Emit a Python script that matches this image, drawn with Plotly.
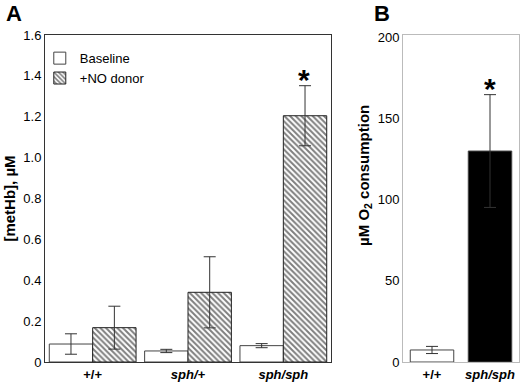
import plotly.graph_objects as go

# Panel A data
genotypes_a = ["+/+", "sph/+", "sph/sph"]
genotype_labels_a = ["<b>+/+</b>", "<b><i>sph/+</i></b>", "<b><i>sph/sph</i></b>"]
baseline = [0.088, 0.054, 0.080]
baseline_err = [0.050, 0.008, 0.010]
no_donor = [0.168, 0.341, 1.205]
no_donor_err = [0.105, 0.174, 0.147]
a_ticks = [0, 0.2, 0.4, 0.6, 0.8, 1.0, 1.2, 1.4, 1.6]
a_ticktext = ["0", "0.2", "0.4", "0.6", "0.8", "1.0", "1.2", "1.4", "1.6"]

# Panel B data
genotypes_b = ["+/+", "sph/sph"]
genotype_labels_b = ["<b>+/+</b>", "<b><i>sph/sph</i></b>"]
o2_cons = [7.4, 129.8]
o2_err = [2.2, 34.7]
b_ticks = [0, 50, 100, 150, 200]

FONT = "Liberation Sans, Arial, sans-serif"

fig = go.Figure()
fig.add_trace(go.Bar(
    x=genotypes_a, y=baseline, name="Baseline",
    marker=dict(color="white", line=dict(color="#444", width=1)),
    error_y=dict(type="data", array=baseline_err, color="#333", thickness=1, width=6),
    xaxis="x", yaxis="y"))
fig.add_trace(go.Bar(
    x=genotypes_a, y=no_donor, name="+NO donor",
    marker=dict(color="white", line=dict(color="#222", width=1),
                pattern=dict(shape="\\", fgcolor="black", bgcolor="white", size=4, solidity=0.5)),
    error_y=dict(type="data", array=no_donor_err, color="#333", thickness=1, width=6),
    xaxis="x", yaxis="y"))
fig.add_trace(go.Bar(
    x=genotypes_b, y=o2_cons, showlegend=False,
    marker=dict(color=["white", "black"], line=dict(color="#444", width=1)),
    error_y=dict(type="data", array=o2_err, color="#333", thickness=1, width=6),
    xaxis="x2", yaxis="y2"))

# significance stars
fig.add_annotation(x=genotypes_a[2], y=no_donor[2] + no_donor_err[2], xref="x", yref="y",
                   text="<b>*</b>", showarrow=False, xshift=21, yanchor="bottom", yshift=-12,
                   font=dict(size=30, family=FONT, color="black"))
fig.add_annotation(x=genotypes_b[1], y=o2_cons[1] + o2_err[1], xref="x2", yref="y2",
                   text="<b>*</b>", showarrow=False, yanchor="bottom", yshift=-12,
                   font=dict(size=30, family=FONT, color="black"))

# panel letters
fig.add_annotation(x=-0.086, y=1.11, xref="paper", yref="paper", text="<b>A</b>", showarrow=False,
                   xanchor="left", yanchor="top", font=dict(size=22, family=FONT, color="black"))
fig.add_annotation(x=0.690, y=1.11, xref="paper", yref="paper", text="<b>B</b>", showarrow=False,
                   xanchor="left", yanchor="top", font=dict(size=22, family=FONT, color="black"))

# panel B axis title
fig.add_annotation(x=0.675, y=0.572, xref="paper", yref="paper",
                   text="<b>µM O<sub>2</sub> consumption</b>", showarrow=False, textangle=-90,
                   xanchor="center", yanchor="middle", font=dict(size=15, family=FONT, color="black"))

fig.update_layout(
    width=520, height=382,
    margin=dict(l=45, r=1, t=35, b=20),
    paper_bgcolor="white", plot_bgcolor="white",
    font=dict(family=FONT, size=13, color="black"),
    barmode="group", bargap=0.09, bargroupgap=0,
    showlegend=True,
    legend=dict(x=-0.011, y=0.975, xanchor="left", yanchor="top", bgcolor="rgba(0,0,0,0)",
                font=dict(size=13, family=FONT), tracegroupgap=0, itemwidth=30),
    xaxis=dict(domain=[0, 0.6034], tickvals=genotypes_a, ticktext=genotype_labels_a,
               showline=True, linecolor="#333", linewidth=1, mirror=True, ticks="",
               tickfont=dict(size=13)),
    yaxis=dict(range=[0, 1.6], tickvals=a_ticks, ticktext=a_ticktext,
               showline=True, linecolor="#333", linewidth=1, mirror=True, ticks="",
               showgrid=False, zeroline=False,
               title=dict(text="<b>[metHb], µM</b>", font=dict(size=15), standoff=4)),
    xaxis2=dict(domain=[0.7553, 1], anchor="y2", tickvals=genotypes_b, ticktext=genotype_labels_b,
                showline=True, linecolor="#bbb", linewidth=1, mirror=True, ticks="",
                tickfont=dict(size=13)),
    yaxis2=dict(anchor="x2", range=[0, 201.2], tickvals=b_ticks,
                showline=True, linecolor="#bbb", linewidth=1, mirror=True, ticks="",
                showgrid=False, zeroline=False),
)
fig.update_traces(selector=dict(xaxis="x2"), width=0.75)

fig.write_html("out.html", config={"displayModeBar": False},
               post_script="document.body.style.margin='0';document.body.style.overflow='hidden';")
